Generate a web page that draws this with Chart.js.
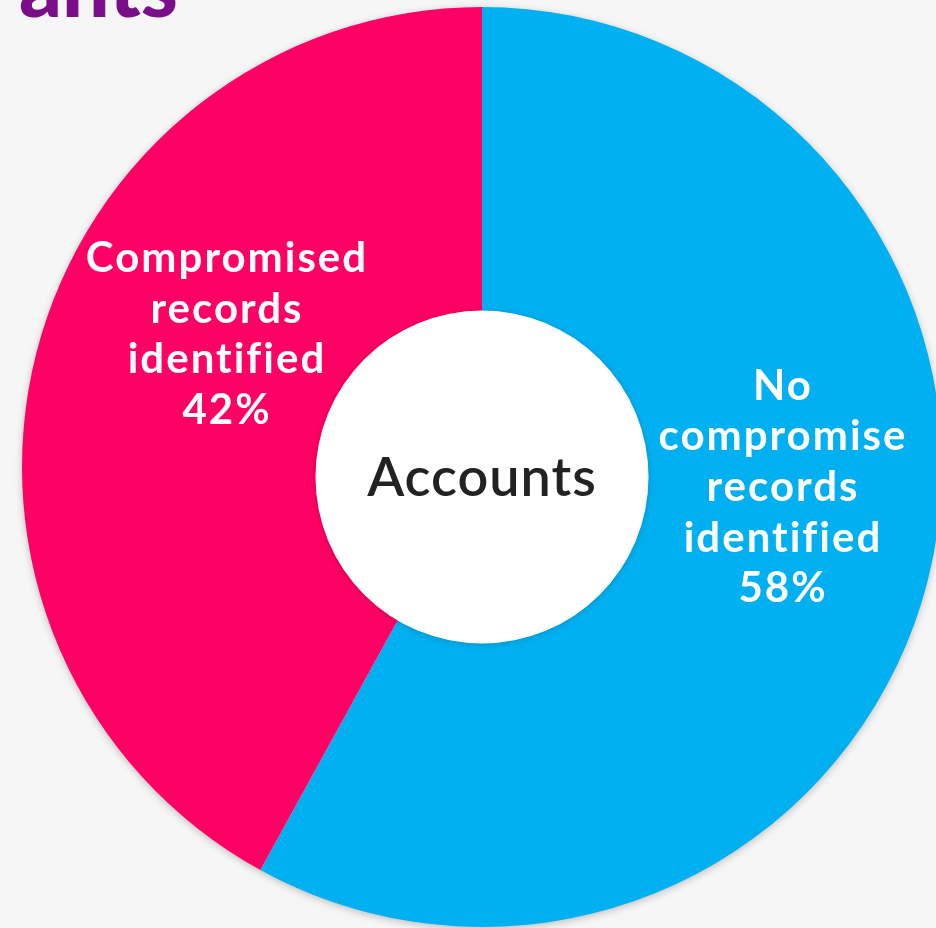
<!DOCTYPE html>
<html>
<head>
<meta charset="utf-8">
<script src="https://cdn.jsdelivr.net/npm/chart.js@4/dist/chart.umd.min.js"></script>
<style>
  html, body { margin: 0; padding: 0; background: #F6F6F6; overflow: hidden; }
  #wrap { position: absolute; left: 0; top: 0; width: 944px; height: 928px; }
</style>
</head>
<body>
<div id="wrap"><canvas id="chart"></canvas></div>
<script>
// Account breakdown by compromise status
const categories = ['No compromise records identified', 'Compromised records identified'];
const shares = [58, 42];
const labelLines = [
  ['No', 'compromise', 'records', 'identified'],
  ['Compromised', 'records', 'identified']
];
const centerTitle = 'Accounts';
const headingText = 'ants';

const sliceColors = ['#00B0F0', '#FF0064'];

// Draws a soft shadow under the pie, then the white centre disc and all text
const pieDecor = {
  id: 'pieDecor',
  beforeDatasetsDraw(chart) {
    const arc = chart.getDatasetMeta(0).data[0];
    const ctx = chart.ctx;
    ctx.save();
    ctx.shadowColor = 'rgba(0,0,0,0.28)';
    ctx.shadowBlur = 8;
    ctx.shadowOffsetY = 2;
    ctx.fillStyle = '#F6F6F6';
    ctx.beginPath();
    ctx.arc(arc.x, arc.y, arc.outerRadius - 1, 0, Math.PI * 2);
    ctx.fill();
    ctx.restore();
  },
  afterDatasetsDraw(chart, args, opts) {
    const meta = chart.getDatasetMeta(0);
    const arc0 = meta.data[0];
    const ctx = chart.ctx;
    const R = arc0.outerRadius;

    // centre disc
    ctx.save();
    ctx.shadowColor = 'rgba(0,0,0,0.18)';
    ctx.shadowBlur = 6;
    ctx.shadowOffsetY = 1;
    ctx.fillStyle = '#FFFFFF';
    ctx.beginPath();
    ctx.arc(arc0.x, arc0.y + opts.discDrop, R * opts.discRatio, 0, Math.PI * 2);
    ctx.fill();
    ctx.restore();

    ctx.save();
    ctx.fillStyle = '#222222';
    ctx.font = opts.centerFont;
    ctx.letterSpacing = '1px';
    ctx.textAlign = 'center';
    ctx.textBaseline = 'alphabetic';
    ctx.fillText(centerTitle, arc0.x, arc0.y + opts.discDrop + 19);

    // slice labels
    ctx.fillStyle = '#FFFFFF';
    ctx.font = opts.labelFont;
    ctx.letterSpacing = '2px';
    meta.data.forEach((arc, i) => {
      const lines = labelLines[i].concat([shares[i] + '%']);
      const a = opts.anchors[i];
      const cx = arc.x + a.dx, cy = arc.y + a.dy;
      const first = cy - (lines.length - 1) / 2 * opts.lineHeight + opts.capHalf;
      lines.forEach((t, k) => ctx.fillText(t, cx, first + k * opts.lineHeight));
    });

    // heading strip along the top edge
    ctx.letterSpacing = '0px';
    ctx.fillStyle = '#7B0C8A';
    ctx.font = opts.headingFont;
    ctx.textAlign = 'right';
    ctx.fillText(headingText, 178, 17);
    ctx.restore();
  }
};

new Chart(document.getElementById('chart'), {
  type: 'pie',
  data: {
    labels: categories,
    datasets: [{
      data: shares,
      backgroundColor: sliceColors,
      borderWidth: 0,
      hoverOffset: 0
    }]
  },
  options: {
    responsive: true,
    maintainAspectRatio: false,
    animation: false,
    layout: { padding: { left: 22, right: 2, top: 7, bottom: 1 } },
    plugins: {
      legend: { display: false },
      tooltip: { enabled: false },
      pieDecor: {
        discDrop: 10,
        discRatio: 0.362,
        centerFont: '600 54px Lato',
        labelFont: 'bold 42px Lato',
        lineHeight: 50.6,
        capHalf: 15,
        anchors: [ { dx: 301, dy: 19 }, { dx: -255, dy: -134 } ],
        headingFont: '900 84px Lato'
      }
    }
  },
  plugins: [pieDecor]
});
</script>
</body>
</html>
